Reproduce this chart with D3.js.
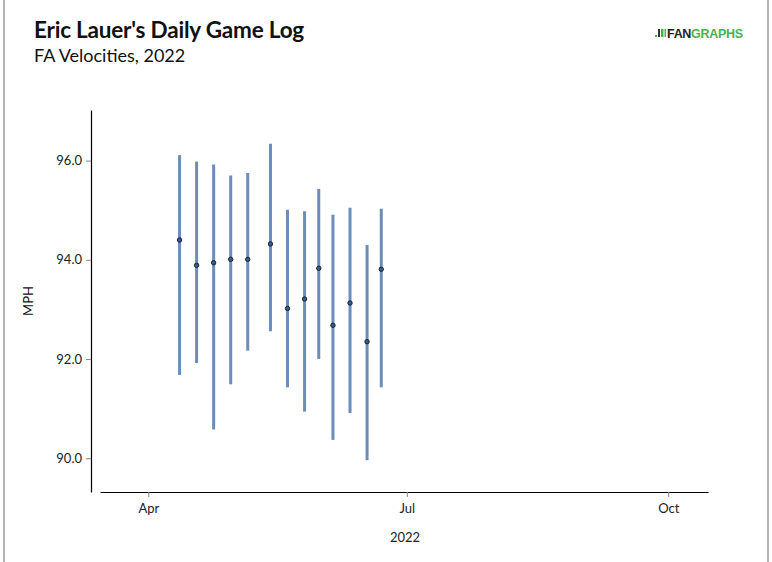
<!DOCTYPE html>
<html>
<head>
<meta charset="utf-8">
<script src="https://cdn.jsdelivr.net/npm/d3@7"></script>
<style>
  html, body { margin: 0; padding: 0; background: #fff; }
  svg { display: block; font-family: Lato, "Open Sans", sans-serif; }
</style>
</head>
<body>
<svg id="chart" width="772" height="562"></svg>
<script>
// ---- data ----
const gameDates = ["2022-04-12","2022-04-18","2022-04-24","2022-04-30","2022-05-06","2022-05-14","2022-05-20","2022-05-26","2022-05-31","2022-06-05","2022-06-11","2022-06-17","2022-06-22"];
const veloMin = [91.68, 91.92, 90.58, 91.49, 92.17, 92.56, 91.43, 90.94, 92.00, 90.37, 90.91, 89.96, 91.43];
const veloAvg = [94.40, 93.89, 93.94, 94.01, 94.01, 94.32, 93.02, 93.21, 93.83, 92.68, 93.13, 92.35, 93.81];
const veloMax = [96.11, 95.98, 95.92, 95.70, 95.75, 96.34, 95.01, 94.98, 95.43, 94.91, 95.05, 94.30, 95.03];
const yTicks = [90, 92, 94, 96];
const xTickDates = ["2022-04-01", "2022-07-01", "2022-10-01"];
const xTickLabels = ["Apr", "Jul", "Oct"];
const xDomain = ["2022-03-15", "2022-10-15"];
const yDomain = [89.32, 97.02];

const parse = d3.timeParse("%Y-%m-%d");
const rows = gameDates.map((d, i) => ({ date: parse(d), min: veloMin[i], avg: veloAvg[i], max: veloMax[i] }));

const svg = d3.select("#chart");

// border lines
svg.append("line").attr("x1", 4).attr("x2", 4).attr("y1", 0).attr("y2", 562).attr("stroke", "#9a9a9a").attr("stroke-width", 1.5);
svg.append("line").attr("x1", 768).attr("x2", 768).attr("y1", 0).attr("y2", 562).attr("stroke", "#9a9a9a").attr("stroke-width", 1.5);

// titles
svg.append("text").attr("x", 34).attr("y", 38).attr("font-size", 22.5).attr("font-weight", 700).attr("fill", "#111")
  .attr("letter-spacing", -0.2).text("Eric Lauer's Daily Game Log");
svg.append("text").attr("x", 34).attr("y", 62).attr("font-size", 18).attr("fill", "#111").text("FA Velocities, 2022");

// logo
const logo = svg.append("g").attr("transform", "translate(655,38)");
logo.append("rect").attr("x", 0).attr("y", -3).attr("width", 2).attr("height", 2).attr("fill", "#4caf50");
logo.append("rect").attr("x", 3).attr("y", -9).attr("width", 2).attr("height", 8).attr("fill", "#333");
logo.append("rect").attr("x", 6).attr("y", -9).attr("width", 2.5).attr("height", 8).attr("fill", "#4caf50");
logo.append("rect").attr("x", 9.5).attr("y", -9).attr("width", 1.5).attr("height", 8).attr("fill", "#4caf50");
logo.append("text").attr("x", 12).attr("y", 0).attr("font-size", 12.5).attr("font-weight", 700)
  .attr("font-family", "Liberation Sans, Arial, sans-serif").attr("letter-spacing", -0.3)
  .selectAll("tspan").data([["FAN", "#222"], ["GRAPHS", "#4caf50"]]).join("tspan")
  .attr("fill", d => d[1]).text(d => d[0]);

// scales
const x = d3.scaleTime().domain(xDomain.map(parse)).range([100, 708]);
const y = d3.scaleLinear().domain(yDomain).range([492, 110]);

// y axis
const yAxis = svg.append("g").attr("transform", "translate(91,0)")
  .call(d3.axisLeft(y).tickValues(yTicks).tickFormat(d3.format(".1f")).tickSize(5).tickSizeOuter(0));
yAxis.select(".domain").attr("stroke", "#000").attr("stroke-width", 1.2);
yAxis.selectAll(".tick line").attr("stroke", "#888");
yAxis.selectAll(".tick text").attr("font-size", 13).attr("fill", "#222").attr("font-family", "Lato, sans-serif").attr("x", -9);

// x axis
const xAxis = svg.append("g").attr("transform", "translate(0,492)")
  .call(d3.axisBottom(x).tickValues(xTickDates.map(parse)).tickFormat((d, i) => xTickLabels[i]).tickSize(5).tickSizeOuter(0));
xAxis.select(".domain").attr("stroke", "#000").attr("stroke-width", 1.2);
xAxis.selectAll(".tick line").attr("stroke", "#888");
xAxis.selectAll(".tick text").attr("font-size", 13).attr("fill", "#222").attr("font-family", "Lato, sans-serif").attr("y", 12);

// axis titles
svg.append("text").attr("x", 405).attr("y", 542).attr("text-anchor", "middle").attr("font-size", 13).attr("fill", "#222").text("2022");
svg.append("text").attr("transform", "translate(33,301) rotate(-90)").attr("text-anchor", "middle")
  .attr("font-size", 13).attr("fill", "#111").text("MPH");

// range bars
svg.append("g").selectAll("line").data(rows).join("line")
  .attr("x1", d => x(d.date)).attr("x2", d => x(d.date))
  .attr("y1", d => y(d.min)).attr("y2", d => y(d.max))
  .attr("stroke", "#6b8db8").attr("stroke-width", 3);

// avg points
svg.append("g").selectAll("circle").data(rows).join("circle")
  .attr("cx", d => x(d.date)).attr("cy", d => y(d.avg)).attr("r", 2.2)
  .attr("fill", "#3d5a85").attr("stroke", "#1b2433").attr("stroke-width", 1);
</script>
</body>
</html>
